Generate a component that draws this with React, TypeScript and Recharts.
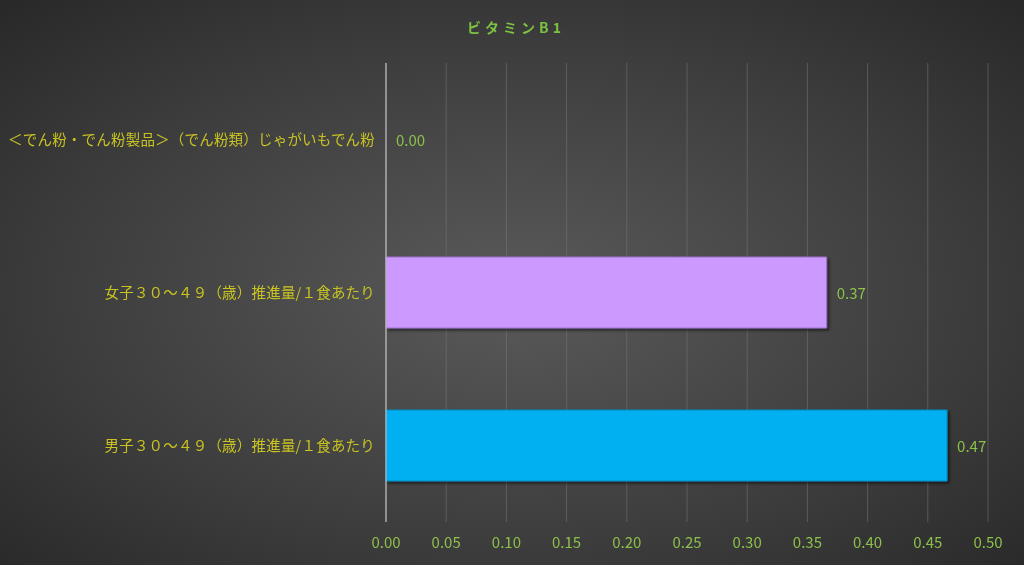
import React from "react";
import { BarChart, Bar, XAxis, YAxis, CartesianGrid, LabelList, Cell } from "recharts";

const categories = [
  "＜でん粉・でん粉製品＞（でん粉類）じゃがいもでん粉",
  "女子３０～４９（歳）推進量/１食あたり",
  "男子３０～４９（歳）推進量/１食あたり",
];
const values = [0.0, 0.366, 0.466];
const barColors = ["#CC99FF", "#CC99FF", "#00B0F0"];
const barStrokes = ["none", "#9a70c8", "#0a8cc0"];
const xTicks = [0, 0.05, 0.1, 0.15, 0.2, 0.25, 0.3, 0.35, 0.4, 0.45, 0.5];
const title = "ビタミンB1";

const data = categories.map((name, i) => ({ name, value: values[i] }));

const FONT = "'Noto Sans CJK JP', 'Noto Sans', sans-serif";

const renderValueLabel = (props: any) => {
  const { x, y, width, height, value } = props;
  const v = Number(value);
  return (
    <text
      x={Number(x) + Number(width) + 10}
      y={Number(y) + Number(height) / 2}
      dominantBaseline="central"
      fill="#8cc04a"
      fontSize={15}
      fontFamily={FONT}
    >
      {v.toFixed(2)}
    </text>
  );
};

export default function App() {
  return (
    <div
      style={{
        position: "fixed",
        left: 0,
        top: 0,
        width: 1024,
        height: 565,
        background: "radial-gradient(ellipse 75% 75% at 50% 52%, #5a5a5a 0%, #3c3c3c 60%, #262626 100%)",
        fontFamily: FONT,
        overflow: "hidden",
      }}
    >
      <svg width="0" height="0" style={{ position: "absolute" }}>
        <defs>
          <filter id="barShadow" x="-5%" y="-10%" width="115%" height="130%">
            <feDropShadow dx="2" dy="2" stdDeviation="1.5" floodColor="#000" floodOpacity="0.55" />
          </filter>
        </defs>
      </svg>
      <div
        style={{
          position: "absolute",
          left: 4,
          top: 17,
          width: 1024,
          textAlign: "center",
          color: "#7cc242",
          fontWeight: "bold",
          fontSize: 14,
          letterSpacing: 4,
          fontFamily: FONT,
        }}
      >
        {title}
      </div>
      <BarChart
        width={1024}
        height={565}
        data={data}
        layout="vertical"
        margin={{ top: 63, right: 36, bottom: 13, left: 0 }}
        barSize={71}
        style={{ position: "absolute", left: 0, top: 0 }}
      >
        <CartesianGrid horizontal={false} vertical={true} stroke="#777" strokeOpacity={0.55} />
        <XAxis
          type="number"
          domain={[0, 0.5]}
          ticks={xTicks}
          tickFormatter={(v: number) => v.toFixed(2)}
          axisLine={false}
          tickLine={false}
          tickSize={0}
          tickMargin={15}
          height={30}
          tick={{ fill: "#8cc04a", fontSize: 15, fontFamily: FONT }}
          interval={0}
        />
        <YAxis
          type="category"
          dataKey="name"
          width={386}
          axisLine={{ stroke: "#c0c0c0", strokeWidth: 1.2 }}
          tickLine={false}
          tickSize={0}
          tickMargin={11}
          tick={{ fill: "#c9c421", fontSize: 14.5, fontFamily: FONT, letterSpacing: 0.2 }}
          interval={0}
        />
        <Bar dataKey="value" isAnimationActive={false} filter="url(#barShadow)" minPointSize={0.01}>
          {data.map((_, i) => (
            <Cell key={i} fill={barColors[i]} stroke={barStrokes[i]} strokeWidth={1} />
          ))}
          <LabelList dataKey="value" content={renderValueLabel} />
        </Bar>
      </BarChart>
    </div>
  );
}
